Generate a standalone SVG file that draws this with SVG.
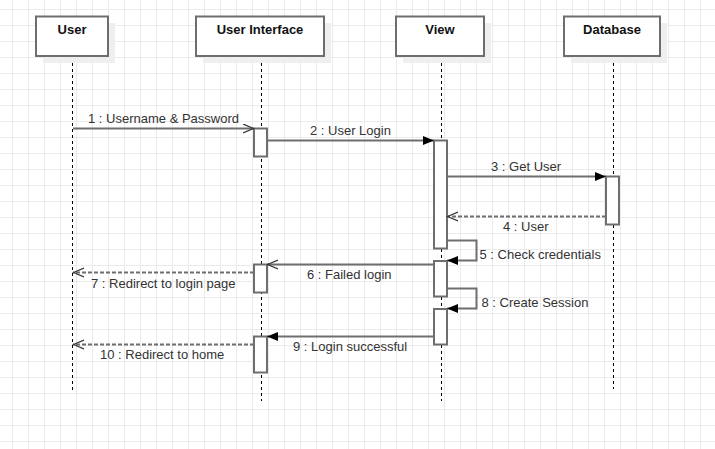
<svg xmlns="http://www.w3.org/2000/svg" width="715" height="449" viewBox="0 0 715 449">
<style>
.box{fill:#fff;stroke:#6e6e6e;stroke-width:2}
.shadow{fill:#efefef}
.title{font-family:"Liberation Sans",Arial,sans-serif;font-size:13px;font-weight:bold;fill:#111;text-anchor:middle}
.life{stroke:#000;stroke-width:1;stroke-dasharray:3 3;fill:none}
.act{fill:#fff;stroke:#6e6e6e;stroke-width:2}
.msg{stroke:#6e6e6e;stroke-width:2;fill:none}
.ret{stroke:#6e6e6e;stroke-width:2;fill:none;stroke-dasharray:4 2}
.lbl{font-family:"Liberation Sans",Arial,sans-serif;font-size:13px;fill:#333}
</style>
<defs>
<pattern id="grid" patternUnits="userSpaceOnUse" x="12" y="9" width="16" height="16">
<path d="M0.5 0V16M0 0.5H16" stroke="#ebebeb" stroke-width="1" fill="none"/>
</pattern>
<marker id="fill" markerUnits="userSpaceOnUse" markerWidth="12" markerHeight="10" refX="11" refY="4.5" orient="auto">
<path d="M0,0 L11,4.5 L0,9 z" fill="#000"/>
</marker>
<marker id="open" markerUnits="userSpaceOnUse" markerWidth="12" markerHeight="12" refX="11" refY="5" orient="auto">
<path d="M0,0.5 L10.5,5 L0,9.5" fill="none" stroke="#333" stroke-width="1.2"/>
</marker>
</defs>
<rect width="715" height="449" fill="#fff"/>
<rect width="715" height="449" fill="url(#grid)"/>

<g id="lifelines">
<line class="life" x1="72.5" y1="57" x2="72.5" y2="390"/>
<line class="life" x1="261.5" y1="57" x2="261.5" y2="401"/>
<line class="life" x1="441.5" y1="57" x2="441.5" y2="401"/>
<line class="life" x1="613.5" y1="57" x2="613.5" y2="389"/>
</g>

<g id="node-user">
<rect class="shadow" x="43" y="23" width="72" height="40"/>
<rect class="box" x="36" y="16.5" width="72" height="39.5"/>
<text class="title" x="72" y="34">User</text>
</g>
<g id="node-ui">
<rect class="shadow" x="203" y="23" width="128" height="40"/>
<rect class="box" x="196" y="16.5" width="128" height="39.5"/>
<text class="title" x="260" y="34">User Interface</text>
</g>
<g id="node-view">
<rect class="shadow" x="403" y="23" width="88" height="40"/>
<rect class="box" x="396" y="16.5" width="88" height="39.5"/>
<text class="title" x="440" y="34">View</text>
</g>
<g id="node-db">
<rect class="shadow" x="571" y="23" width="96" height="40"/>
<rect class="box" x="564" y="16.5" width="96" height="39.5"/>
<text class="title" x="612" y="34">Database</text>
</g>

<g id="activations">
<rect id="act-ui-1" class="act" x="254" y="128.5" width="13" height="28"/>
<rect id="act-view-1" class="act" x="434" y="140.5" width="13" height="108"/>
<rect id="act-db-1" class="act" x="606" y="176.5" width="13" height="48"/>
<rect id="act-view-2" class="act" x="434" y="261" width="13" height="35.5"/>
<rect id="act-ui-2" class="act" x="254" y="264.5" width="13" height="28"/>
<rect id="act-view-3" class="act" x="434" y="309" width="13" height="35.5"/>
<rect id="act-ui-3" class="act" x="254" y="336.5" width="13" height="36"/>
</g>

<g id="connectors">
<line class="msg" x1="73" y1="128.5" x2="254" y2="128.5" marker-end="url(#open)"/>
<line class="msg" x1="267" y1="140.5" x2="434" y2="140.5" marker-end="url(#fill)"/>
<line class="msg" x1="447" y1="176.5" x2="606" y2="176.5" marker-end="url(#fill)"/>
<line class="ret" x1="606" y1="216.5" x2="447" y2="216.5" marker-end="url(#open)"/>
<polyline class="msg" points="447,240.5 476.5,240.5 476.5,260.5 447,260.5" marker-end="url(#fill)"/>
<line class="msg" x1="434" y1="264.5" x2="267" y2="264.5" marker-end="url(#open)"/>
<line class="ret" x1="254" y1="272.5" x2="73" y2="272.5" marker-end="url(#open)"/>
<polyline class="msg" points="447,288.5 476.5,288.5 476.5,308.5 447,308.5" marker-end="url(#fill)"/>
<line class="msg" x1="434" y1="336.5" x2="267" y2="336.5" marker-end="url(#fill)"/>
<line class="ret" x1="254" y1="344.5" x2="73" y2="344.5" marker-end="url(#open)"/>
</g>

<g id="labels">
<text class="lbl" x="88" y="123">1 : Username &amp; Password</text>
<text class="lbl" x="310" y="135">2 : User Login</text>
<text class="lbl" x="491" y="171">3 : Get User</text>
<text class="lbl" x="503" y="231">4 : User</text>
<text class="lbl" x="479.5" y="259">5 : Check credentials</text>
<text class="lbl" x="307" y="279">6 : Failed login</text>
<text class="lbl" x="91" y="287.5">7 : Redirect to login page</text>
<text class="lbl" x="481.5" y="307">8 : Create Session</text>
<text class="lbl" x="293" y="351">9 : Login successful</text>
<text class="lbl" x="100" y="359">10 : Redirect to home</text>
</g>
</svg>
